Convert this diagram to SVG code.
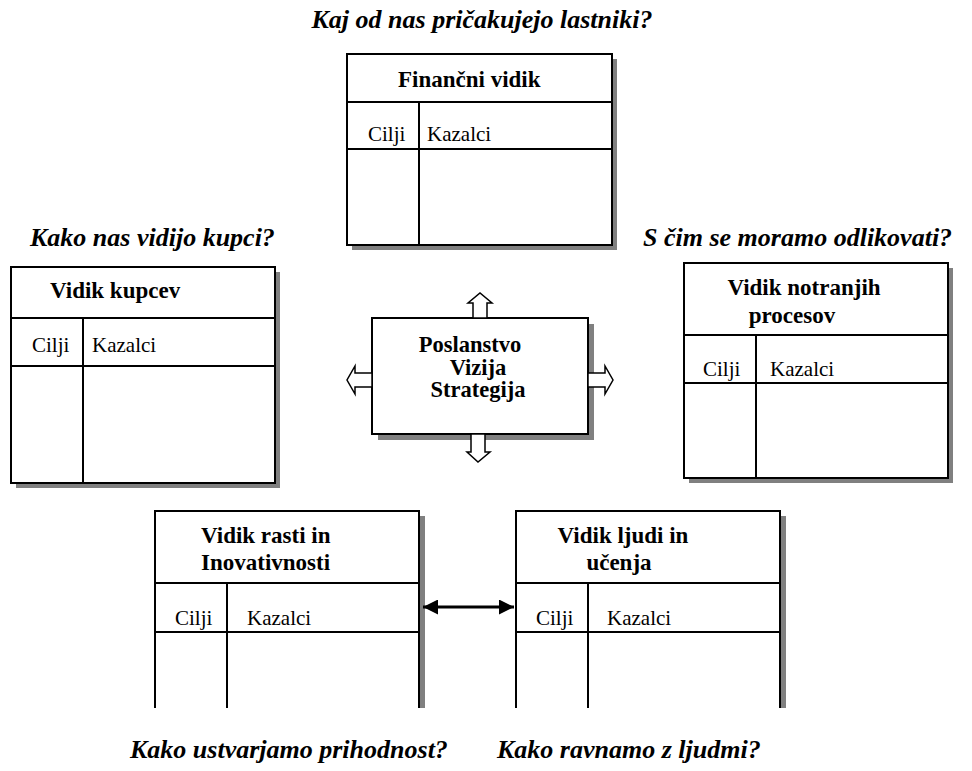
<svg xmlns="http://www.w3.org/2000/svg" width="972" height="771" viewBox="0 0 972 771">
<style>
.bg{fill:#fff}
.sh{fill:#808080}
.bx{fill:#fff;stroke:#000;stroke-width:2}
.ln{fill:none;stroke:#000;stroke-width:2}
.ar{fill:#fff;stroke:#000;stroke-width:1.5;stroke-linejoin:miter}
text{font-family:'Liberation Serif','DejaVu Serif',serif;fill:#000}
.t{font-size:23px;font-weight:bold}
.m{font-size:22.5px;font-weight:bold}
.c{font-size:21px}
.q{font-size:26px;font-weight:bold;font-style:italic}
</style>
<defs>
<marker id="ah" viewBox="0 0 10 10" refX="10" refY="5" markerWidth="5.5" markerHeight="5" orient="auto-start-reverse" markerUnits="strokeWidth">
<path d="M0,0 L10,5 L0,10 Z" fill="#000"/>
</marker>
</defs>
<rect class="bg" x="0" y="0" width="972" height="771"/>

<g id="q-top"><text class="q" x="482" y="28" text-anchor="middle">Kaj od nas pričakujejo lastniki?</text></g>
<g id="q-left"><text class="q" x="30" y="246">Kako nas vidijo kupci?</text></g>
<g id="q-right"><text class="q" x="643" y="246">S čim se moramo odlikovati?</text></g>
<g id="q-bl"><text class="q" x="130" y="758">Kako ustvarjamo prihodnost?</text></g>
<g id="q-br"><text class="q" x="497" y="758">Kako ravnamo z ljudmi?</text></g>

<g id="financni">
<rect class="sh" x="352" y="59" width="265" height="191"/>
<rect class="bx" x="347" y="54" width="265" height="191"/>
<line class="ln" x1="347" y1="102" x2="612" y2="102"/>
<line class="ln" x1="347" y1="149" x2="612" y2="149"/>
<line class="ln" x1="419" y1="102" x2="419" y2="245"/>
<text class="t" x="398" y="87">Finančni vidik</text>
<text class="c" x="368" y="141">Cilji</text>
<text class="c" x="427" y="141">Kazalci</text>
</g>

<g id="kupci">
<rect class="sh" x="16" y="272" width="264" height="216"/>
<rect class="bx" x="11" y="267" width="264" height="216"/>
<line class="ln" x1="11" y1="318" x2="275" y2="318"/>
<line class="ln" x1="11" y1="366" x2="275" y2="366"/>
<line class="ln" x1="83" y1="318" x2="83" y2="483"/>
<text class="t" x="50" y="298">Vidik kupcev</text>
<text class="c" x="32" y="352">Cilji</text>
<text class="c" x="92" y="352">Kazalci</text>
</g>

<g id="notranji">
<rect class="sh" x="689" y="268" width="264" height="215"/>
<rect class="bx" x="684" y="263" width="264" height="215"/>
<line class="ln" x1="684" y1="335" x2="948" y2="335"/>
<line class="ln" x1="684" y1="383" x2="948" y2="383"/>
<line class="ln" x1="756" y1="335" x2="756" y2="478"/>
<text class="t" x="804" y="295" text-anchor="middle">Vidik notranjih</text>
<text class="t" x="792" y="323" text-anchor="middle">procesov</text>
<text class="c" x="703" y="376">Cilji</text>
<text class="c" x="770" y="376">Kazalci</text>
</g>

<g id="center">
<rect class="sh" x="378" y="324" width="216" height="116"/>
<rect class="bx" x="372" y="318" width="216" height="116"/>
<text class="m" x="470" y="352" text-anchor="middle">Poslanstvo</text>
<text class="m" x="478" y="374.5" text-anchor="middle">Vizija</text>
<text class="m" x="478" y="397" text-anchor="middle">Strategija</text>
<path class="ar" d="M473,318 V303 H468 L480,293 L492,303 H487 V318 Z"/>
<path class="ar" d="M471,434 V452 H467 L478,462 L490,452 H485 V434 Z"/>
<path class="ar" d="M588,373 H605 V366 L613,380 L605,394 V387 H588 Z"/>
<path class="ar" d="M372,373 H355 V366 L347,380 L355,394 V387 H372 Z"/>
</g>

<g id="rast">
<rect class="sh" x="420" y="516" width="5" height="192"/>
<rect class="bg" x="155" y="511" width="264" height="197"/>
<path class="ln" d="M155,708 V511 H419 V708"/>
<line class="ln" x1="155" y1="583" x2="419" y2="583"/>
<line class="ln" x1="155" y1="632" x2="419" y2="632"/>
<line class="ln" x1="227" y1="583" x2="227" y2="708"/>
<text class="t" x="201" y="543">Vidik rasti in</text>
<text class="t" x="201" y="570">Inovativnosti</text>
<text class="c" x="175" y="625">Cilji</text>
<text class="c" x="247" y="625">Kazalci</text>
</g>

<g id="ljudi">
<rect class="sh" x="781" y="516" width="5" height="192"/>
<rect class="bg" x="516" y="511" width="264" height="197"/>
<path class="ln" d="M516,708 V511 H780 V708"/>
<line class="ln" x1="516" y1="583" x2="780" y2="583"/>
<line class="ln" x1="516" y1="632" x2="780" y2="632"/>
<line class="ln" x1="588" y1="583" x2="588" y2="708"/>
<text class="t" x="623" y="543" text-anchor="middle">Vidik ljudi in</text>
<text class="t" x="619" y="570" text-anchor="middle">učenja</text>
<text class="c" x="536" y="625">Cilji</text>
<text class="c" x="607" y="625">Kazalci</text>
</g>

<g id="connectors">
<line x1="423" y1="607" x2="514" y2="607" stroke="#000" stroke-width="3" marker-start="url(#ah)" marker-end="url(#ah)"/>
</g>
</svg>
